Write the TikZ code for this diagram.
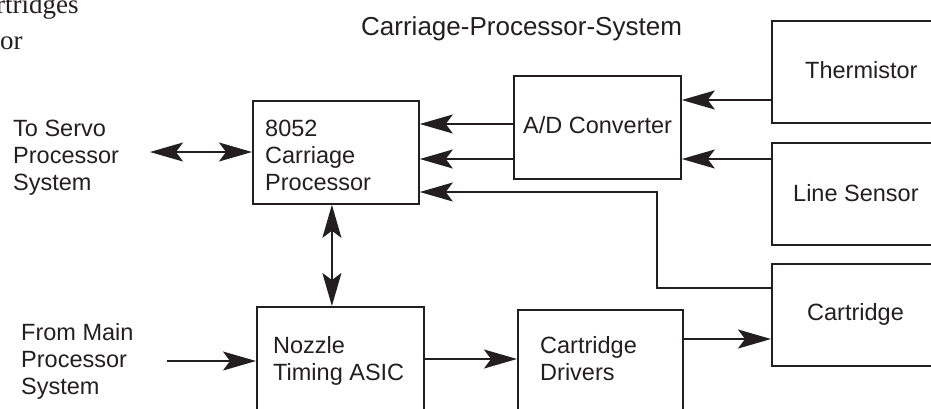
\documentclass[tikz,border=0pt]{standalone}
\usepackage{fontspec}
\setmainfont{Liberation Sans}
\newfontfamily\pageserif{Liberation Serif}
\usetikzlibrary{arrows.meta}
\definecolor{ink}{HTML}{231F20}

\begin{document}
\begin{tikzpicture}[x=1pt, y=-1pt,
                        box/.style={
                            draw=ink,
                            line width=1.8pt,
                            fill=white,
                            inner sep=0pt,
                            anchor=north west
                        },
                        boxtext/.style={
                            anchor=base west,
                            inner sep=0pt,
                            align=left,
                            text=ink,
                            font=\fontsize{23.5}{27}\selectfont
                        },
                        signal/.style={
                            draw=ink,
                            line width=1.6pt,
                            -{Stealth[length=33pt, width=19pt, inset=7pt]}
                        },
                        twoway/.style={
                            signal,
                            {Stealth[length=33pt, width=19pt, inset=7pt]}-{Stealth[length=33pt, width=19pt, inset=7pt]}
                        }
                    ]

                    % Page frame (the picture is cut from a page)
                    \useasboundingbox (0,0) rectangle (931,408);
                    \clip (0,0) rectangle (931,408);

                    % Page text cut at the left edge
                    \node[boxtext, font=\pageserif\fontsize{27}{36}\selectfont]
                        (pagetop) at (-4,13) {rtridges};
                    \node[boxtext, font=\pageserif\fontsize{27}{36}\selectfont]
                        (pagebottom) at (0,49) {or};

                    % Title
                    \node[boxtext, font=\fontsize{26}{30}\selectfont]
                        (title) at (361,35) {Carriage-Processor-System};

                    % 8052 Carriage Processor
                    \node[box,
                        minimum width=166pt,
                        minimum height=103pt
                    ] (proc) at (252,100) {};

                    \node[boxtext]
                        at ([xshift=13pt, yshift=-90pt] proc.north west)
                        {8052\\Carriage\\Processor};

                    % A/D Converter
                    \node[box,
                        minimum width=167pt,
                        minimum height=103pt
                    ] (adc) at (513,75) {};

                    \node[boxtext]
                        at ([xshift=10pt, yshift=-58pt] adc.north west)
                        {A/D Converter};

                    % Thermistor (runs off the right edge)
                    \node[box,
                        minimum width=200pt,
                        minimum height=102pt
                    ] (therm) at (771,20) {};

                    \node[boxtext]
                        at ([xshift=34pt, yshift=-58pt] therm.north west)
                        {Thermistor};

                    % Line Sensor
                    \node[box,
                        minimum width=200pt,
                        minimum height=102pt
                    ] (linesensor) at (771,142) {};

                    \node[boxtext]
                        at ([xshift=22pt, yshift=-59pt] linesensor.north west)
                        {Line Sensor};

                    % Cartridge
                    \node[box,
                        minimum width=200pt,
                        minimum height=102pt
                    ] (cart) at (771,263) {};

                    \node[boxtext]
                        at ([xshift=36pt, yshift=-57pt] cart.north west)
                        {Cartridge};

                    % Nozzle Timing ASIC (runs off the bottom edge)
                    \node[box,
                        minimum width=167pt,
                        minimum height=120pt
                    ] (nozzle) at (256,306) {};

                    \node[boxtext]
                        at ([xshift=17pt, yshift=-74pt] nozzle.north west)
                        {Nozzle\\Timing ASIC};

                    % Cartridge Drivers
                    \node[box,
                        minimum width=165pt,
                        minimum height=120pt
                    ] (drivers) at (517,309) {};

                    \node[boxtext]
                        at ([xshift=23pt, yshift=-71pt] drivers.north west)
                        {Cartridge\\Drivers};

                    % Outside systems
                    \node[boxtext] (servo) at (13,190) {To Servo\\Processor\\System};
                    \node[boxtext] (mainsys) at (21,394) {From Main\\Processor\\System};
                    \coordinate (servoend) at (150,152);
                    \coordinate (mainend) at (167,361);

                    % Connectors
                    \draw[twoway] (servoend) -- (proc.west |- servoend);
                    \draw[twoway] ([xshift=-4pt] proc.south) -- ([xshift=-4pt] proc.south |- nozzle.north);
                    \draw[signal] (mainend) -- (nozzle.west |- mainend);
                    \draw[signal] (nozzle.east |- 0,359) -- (drivers.west |- 0,359);
                    \draw[signal] (drivers.east |- 0,339) -- (cart.west |- 0,339);
                    \draw[signal] (therm.west |- 0,100) -- (adc.east |- 0,100);
                    \draw[signal] (linesensor.west |- 0,159) -- (adc.east |- 0,159);
                    \draw[signal] (adc.west |- 0,124) -- (proc.east |- 0,124);
                    \draw[signal] (adc.west |- 0,159) -- (proc.east |- 0,159);
                    \draw[signal] (cart.west |- 0,288) -| (657,192) -- (proc.east |- 0,192);
                    \end{tikzpicture}
\end{document}
